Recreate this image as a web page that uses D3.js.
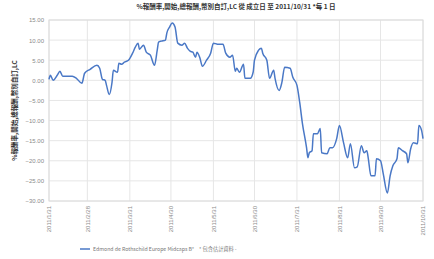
<!DOCTYPE html>
<html>
<head>
<meta charset="utf-8">
<script src="https://cdn.jsdelivr.net/npm/d3@7"></script>
<style>
  body { margin: 0; background: #fff; }
  svg { font-family: "Noto Sans CJK TC", "Noto Sans", sans-serif; }
</style>
</head>
<body>
<svg id="chart" width="434" height="259"></svg>
<script>
// series (daily % return since inception)
var dates = ["2011-01-31","2011-02-01","2011-02-03","2011-02-06","2011-02-08","2011-02-10","2011-02-14","2011-02-17","2011-02-20","2011-02-24","2011-02-26",
  "2011-03-02","2011-03-07","2011-03-09","2011-03-11","2011-03-13","2011-03-14","2011-03-16","2011-03-18","2011-03-19","2011-03-22","2011-03-23","2011-03-25","2011-03-27","2011-03-30",
  "2011-04-02","2011-04-04","2011-04-06","2011-04-07","2011-04-10","2011-04-12","2011-04-15","2011-04-18","2011-04-20","2011-04-21","2011-04-23","2011-04-26","2011-04-27","2011-04-29",
  "2011-05-01","2011-05-03","2011-05-05","2011-05-08","2011-05-10","2011-05-12","2011-05-14","2011-05-16","2011-05-18","2011-05-19","2011-05-21","2011-05-23","2011-05-26","2011-05-29","2011-05-31",
  "2011-06-03","2011-06-07","2011-06-09","2011-06-12","2011-06-14","2011-06-16","2011-06-17","2011-06-19","2011-06-22","2011-06-23","2011-06-27","2011-06-29","2011-06-30",
  "2011-07-03","2011-07-05","2011-07-06","2011-07-09","2011-07-11","2011-07-14","2011-07-15","2011-07-18","2011-07-20","2011-07-22","2011-07-26","2011-07-28","2011-07-31",
  "2011-08-02","2011-08-04","2011-08-07","2011-08-08","2011-08-09","2011-08-11","2011-08-12","2011-08-15","2011-08-17","2011-08-18","2011-08-22","2011-08-24","2011-08-26","2011-08-29","2011-08-31",
  "2011-09-03","2011-09-06","2011-09-08","2011-09-11","2011-09-13","2011-09-16","2011-09-18","2011-09-20","2011-09-21","2011-09-23","2011-09-26","2011-09-27","2011-09-30",
  "2011-10-02","2011-10-05","2011-10-07","2011-10-09","2011-10-12","2011-10-13","2011-10-16","2011-10-19","2011-10-20","2011-10-22","2011-10-24","2011-10-27","2011-10-28","2011-10-30","2011-10-31"];
var returns = [0.25,1.25,0,1.25,2.25,1.0,1.0,1.0,0.5,-0.75,1.75,
  2.75,3.75,3.0,0.25,0,-1.25,-3.5,-0.5,2.5,2.0,4.25,4.0,4.5,5.0,
  6.75,8.25,9.25,7.75,8.75,7.0,6.25,3.75,7.5,9.5,9.75,10.0,11.75,13.25,
  14.25,13.25,9.25,8.75,9.25,8.0,7.25,7.0,5.75,7.0,5.75,3.5,5.0,6.75,9.25,
  9.0,9.0,6.75,5.75,6.25,2.25,3.0,2.0,4.0,0.5,0.5,2.0,5.0,
  7.5,8.0,6.75,5.0,0.5,2.5,0.5,-2.5,-0.5,3.25,3.0,0.75,-1.25,
  -5.5,-10.75,-16.75,-19.25,-18.0,-17.5,-13.25,-13.25,-12.0,-18.0,-18.25,-16.75,-16.75,-14.5,-11.25,
  -15.5,-19.25,-15.75,-21.75,-21.5,-16.25,-18.0,-17.5,-19.25,-23.75,-23.75,-19.5,-20.0,
  -23.25,-28.0,-23.75,-21.25,-19.5,-16.75,-17.5,-18.25,-20.5,-17.0,-15.5,-15.75,-11.25,-12.5,-14.5];
var xTicks = ["2011-01-31","2011-02-28","2011-03-31","2011-04-30","2011-05-31","2011-06-30","2011-07-31","2011-08-31","2011-09-30","2011-10-31"];
var yTicks = [15, 10, 5, 0, -5, -10, -15, -20, -25, -30];
var seriesName = "Edmond de Rothschild Europe Midcaps B*";
var noteText = "* 包含估計資料 -";
var titleText = "%報酬率,開始,總報酬,幣別自訂,LC 從 成立日 至 2011/10/31 *每 1 日";
var yTitle = "%報酬率,開始,總報酬,幣別自訂,LC";

(function(d3) {
  var svg = d3.select("#chart"),
      margin = {top: 20, right: 11, left: 49},
      width = 434 - margin.left - margin.right,
      height = 181,
      g = svg.append("g").attr("transform", "translate(" + margin.left + "," + margin.top + ")");

  var parseTime = d3.timeParse("%Y-%m-%d"),
      fmtTick = d3.timeFormat("%Y/%-m/%-d");

  var data = dates.map(function(d, i) { return {date: parseTime(d), value: returns[i]}; });
  var ticks = xTicks.map(parseTime);

  var x = d3.scaleTime().domain([ticks[0], ticks[ticks.length - 1]]).range([0, width]),
      y = d3.scaleLinear().domain([-30, 15]).range([height, 0]);

  // grid
  g.append("g").selectAll("line").data(yTicks).enter().append("line")
    .attr("x1", 0).attr("x2", width)
    .attr("y1", function(d) { return y(d); }).attr("y2", function(d) { return y(d); })
    .attr("stroke", "#e6e6e6").attr("stroke-width", 1);
  g.append("g").selectAll("line").data(ticks).enter().append("line")
    .attr("y1", 0).attr("y2", height)
    .attr("x1", function(d) { return x(d); }).attr("x2", function(d) { return x(d); })
    .attr("stroke", "#e6e6e6").attr("stroke-width", 1);
  g.append("rect").attr("width", width).attr("height", height)
    .attr("fill", "none").attr("stroke", "#dcdcdc");

  // axes
  var yAxis = g.append("g")
    .call(d3.axisLeft(y).tickValues(yTicks).tickFormat(d3.format(".2f")).tickSize(0).tickPadding(5));
  yAxis.select(".domain").remove();
  yAxis.selectAll("text").attr("fill", "#8a8a8a").style("font-size", "6px");

  var xAxis = g.append("g")
    .attr("transform", "translate(0," + height + ")")
    .call(d3.axisBottom(x).tickValues(ticks).tickFormat(fmtTick).tickSize(0).tickPadding(4));
  xAxis.select(".domain").remove();
  xAxis.selectAll("text")
    .attr("fill", "#8a8a8a").style("font-size", "6px")
    .attr("text-anchor", "end")
    .attr("transform", "rotate(-90)")
    .attr("x", -5).attr("y", 0).attr("dy", "0.32em");

  // series
  var line = d3.line()
    .curve(d3.curveMonotoneX)
    .x(function(d) { return x(d.date); })
    .y(function(d) { return y(d.value); });
  g.append("path").datum(data)
    .attr("d", line)
    .attr("fill", "none")
    .attr("stroke", "#4a78c6")
    .attr("stroke-width", 1.5)
    .attr("stroke-linejoin", "round");

  // titles
  svg.append("text").attr("x", 236).attr("y", 9)
    .attr("text-anchor", "middle")
    .style("font-size", "6.5px").style("font-weight", "bold").attr("fill", "#333")
    .text(titleText);
  svg.append("text")
    .attr("transform", "translate(17," + (margin.top + y(-7.5)) + ") rotate(-90)")
    .attr("text-anchor", "middle")
    .style("font-size", "6.5px").style("font-weight", "bold").attr("fill", "#333")
    .text(yTitle);

  // legend
  var legend = svg.append("g").attr("transform", "translate(80,249)");
  legend.append("line").attr("x1", 0).attr("x2", 10).attr("y1", 0).attr("y2", 0)
    .attr("stroke", "#4a78c6").attr("stroke-width", 1.5);
  legend.append("text").attr("x", 13).attr("y", 0).attr("dy", "0.35em")
    .style("font-size", "5.2px").attr("fill", "#777").text(seriesName);
  legend.append("text").attr("x", 119).attr("y", 0).attr("dy", "0.35em")
    .style("font-size", "5.2px").attr("fill", "#777").text(noteText);
})(window.d3);
</script>
</body>
</html>
